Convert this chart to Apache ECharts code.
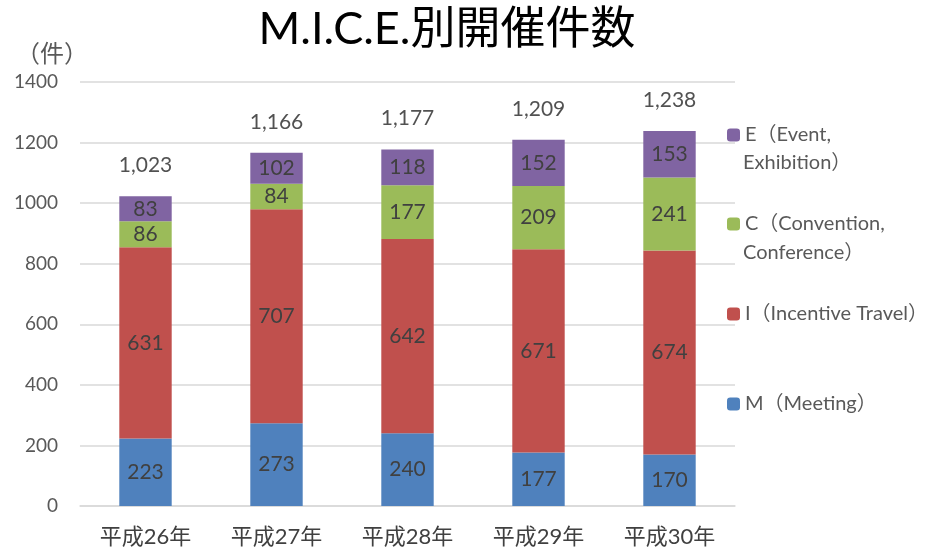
<!DOCTYPE html>
<html><head><meta charset="utf-8">
<script src="https://cdn.jsdelivr.net/npm/echarts@6/dist/echarts.min.js"></script>
<style>html,body{margin:0;padding:0;background:#fff}#c{width:926px;height:549px}</style>
</head><body><div id="c"></div>
<script>
const categories = ['平成26年','平成27年','平成28年','平成29年','平成30年'];
const mData = [223, 273, 240, 177, 170];
const iData = [631, 707, 642, 671, 674];
const cData = [86, 84, 177, 209, 241];
const eData = [83, 102, 118, 152, 153];
const yTicks = [0, 200, 400, 600, 800, 1000, 1200, 1400];
const names = ['M（Meeting）','I（Incentive Travel）','C（Convention, Conference）','E（Event, Exhibition）'];
const colors = ['#4F81BD','#C0504D','#9BBB59','#8064A2'];
const totals = categories.map((_, k) => mData[k] + iData[k] + cData[k] + eData[k]);

const FONT = "Lato, 'Noto Sans CJK JP', sans-serif";
const chart = echarts.init(document.getElementById('c'), null, {renderer: 'canvas'});
const lbl = {show: true, position: 'inside', color: '#404040', fontSize: 21, fontFamily: FONT};
const mk = (name, data, color) => ({
  name, type: 'bar', stack: 'all', data, barWidth: '40%',
  itemStyle: {color}, label: lbl, emphasis: {disabled: true}
});
const legendFmt = {
  'E（Event, Exhibition）': 'E（Event,',
  'C（Convention, Conference）': 'C（Convention,',
  'I（Incentive Travel）': 'I（Incentive Travel）',
  'M（Meeting）': 'M（Meeting）'
};
const legendTops = {'E（Event, Exhibition）': 120, 'C（Convention, Conference）': 209, 'I（Incentive Travel）': 299, 'M（Meeting）': 389};
const legends = names.map(n => ({
  data: [n], orient: 'vertical', left: 722, top: legendTops[n],
  itemWidth: 13, itemHeight: 13, itemGap: 0,
  selectedMode: false,
  formatter: (nm) => legendFmt[nm],
  textStyle: {color: '#595959', fontSize: 20, fontFamily: FONT}
}));
chart.setOption({
  animation: false,
  title: {text: 'M.I.C.E.別開催件数', left: 442, top: 2, textAlign: 'center',
    textStyle: {fontSize: 45, fontWeight: 'normal', color: '#000', fontFamily: FONT}},
  legend: legends,
  grid: {left: 80, right: 191, top: 82, bottom: 43, containLabel: false},
  xAxis: {type: 'category', data: categories,
    axisLine: {lineStyle: {color: '#d9d9d9', width: 1.5}}, axisTick: {show: false},
    axisLabel: {color: '#404040', fontSize: 22, margin: 20, fontFamily: FONT}},
  yAxis: {type: 'value', min: yTicks[0], max: yTicks[yTicks.length-1], interval: 200,
    name: '（件）', nameLocation: 'end', nameGap: 16,
    nameTextStyle: {color: '#595959', fontSize: 24, fontFamily: FONT, align: 'right', padding: [0, -8, 0, 0]},
    axisLine: {show: false}, axisTick: {show: false},
    axisLabel: {color: '#595959', fontSize: 19, margin: 22, fontFamily: FONT, formatter: v => String(v)},
    splitLine: {lineStyle: {color: '#d9d9d9', width: 1.5}}},
  graphic: [
    {type: 'text', left: 743, top: 153, style: {text: 'Exhibition）', fill: '#595959', fontSize: 20, fontFamily: FONT}},
    {type: 'text', left: 743, top: 243, style: {text: 'Conference）', fill: '#595959', fontSize: 20, fontFamily: FONT}}
  ],
  series: [
    mk(names[0], mData, colors[0]),
    mk(names[1], iData, colors[1]),
    mk(names[2], cData, colors[2]),
    mk(names[3], eData, colors[3]),
    {name: 'total', type: 'scatter', data: totals, symbolSize: 1,
      itemStyle: {color: 'rgba(255,255,255,0)'}, silent: true,
      label: {show: true, position: 'top', distance: 20, color: '#262626', fontSize: 21, fontFamily: FONT,
        formatter: p => p.value.toLocaleString('en-US')}}
  ]
});
</script></body></html>
